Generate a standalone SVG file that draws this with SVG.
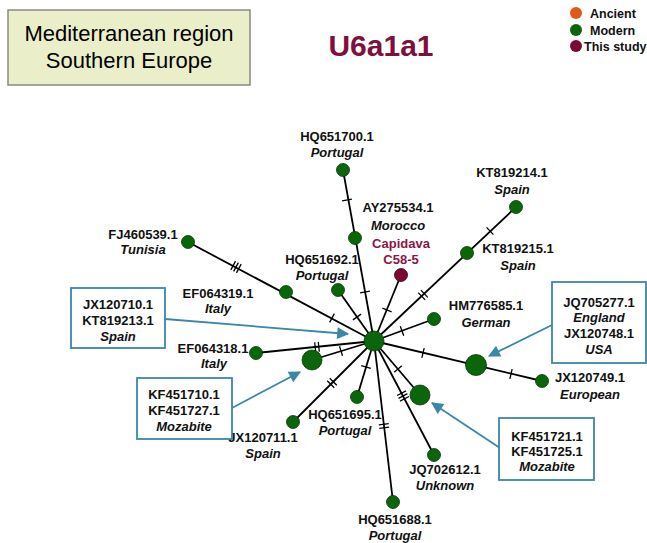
<svg xmlns="http://www.w3.org/2000/svg" width="647" height="543" viewBox="0 0 647 543">
<style>
text{font-family:"Liberation Sans",Arial,sans-serif;text-anchor:middle}
.l{font-size:13px;font-weight:bold;fill:#111}
.c{font-size:13px;font-weight:bold;font-style:italic;fill:#111}
.g{font-size:12.5px;font-weight:bold;fill:#111;text-anchor:start}
.e{stroke:#000;stroke-width:1.8;fill:none}
.t{stroke:#000;stroke-width:1.3}
.n{fill:#0B650B;stroke:#053805;stroke-width:0.8}
.s{fill:#7A0A33;stroke:#3a0418;stroke-width:0.8}
.box{fill:#fff;stroke:#3B87A8;stroke-width:1.8}
.ar{stroke:#3B87A8;stroke-width:1.8;fill:none}
</style>
<defs>
<marker id="ah2" viewBox="0 0 10 10" refX="9" refY="5" markerWidth="14" markerHeight="12" orient="auto" markerUnits="userSpaceOnUse">
<path d="M0,0 L10,5 L0,10 z" fill="#3B87A8"/>
</marker>
</defs>

<g id="region-box">
<rect x="8" y="10" width="242" height="75" fill="#EBEFC9" stroke="#8a8a80" stroke-width="1.5"/>
<text x="129" y="41" style="font-size:22px">Mediterranean region</text>
<text x="129" y="68" style="font-size:22px">Southern Europe</text>
</g>
<g id="title">
<text x="381" y="56" style="font-size:30px;font-weight:bold;fill:#7E1040">U6a1a1</text>
</g>
<g id="legend">
<circle cx="576" cy="13" r="6" fill="#E2581A"/>
<circle cx="576" cy="30" r="6" fill="#0B650B"/>
<circle cx="576" cy="46" r="6" fill="#7A0A33"/>
<text x="590" y="18" class="g">Ancient</text>
<text x="590" y="35" class="g">Modern</text>
<text x="584" y="51" class="g">This study</text>
</g>

<g id="connectors">
<line class="e" x1="374" y1="341" x2="343" y2="170"/>
<line class="e" x1="374" y1="341" x2="401" y2="275"/>
<line class="e" x1="374" y1="341" x2="516" y2="207"/>
<line class="e" x1="374" y1="341" x2="434" y2="319"/>
<line class="e" x1="374" y1="341" x2="542" y2="381"/>
<line class="e" x1="374" y1="341" x2="420" y2="395"/>
<line class="e" x1="374" y1="341" x2="434" y2="455"/>
<line class="e" x1="374" y1="341" x2="393" y2="502"/>
<line class="e" x1="374" y1="341" x2="357" y2="397"/>
<line class="e" x1="374" y1="341" x2="293" y2="422"/>
<line class="e" x1="374" y1="341" x2="312" y2="360"/>
<line class="e" x1="374" y1="341" x2="256" y2="353"/>
<line class="e" x1="374" y1="341" x2="188" y2="242"/>
<line class="e" x1="374" y1="341" x2="338" y2="290"/>
<g transform="translate(347,200) rotate(-100.3)"><line class="t" x1="0" y1="-5" x2="0" y2="5"/></g>
<g transform="translate(365,292) rotate(-100.3)"><line class="t" x1="0" y1="-5" x2="0" y2="5"/></g>
<g transform="translate(387,310) rotate(-67.8)"><line class="t" x1="0" y1="-5" x2="0" y2="5"/></g>
<g transform="translate(423,295) rotate(-43.3)"><line class="t" x1="-1.8" y1="-5" x2="-1.8" y2="5"/><line class="t" x1="1.8" y1="-5" x2="1.8" y2="5"/></g>
<g transform="translate(490,231) rotate(-43.3)"><line class="t" x1="0" y1="-5" x2="0" y2="5"/></g>
<g transform="translate(402,331) rotate(-20.1)"><line class="t" x1="0" y1="-5" x2="0" y2="5"/></g>
<g transform="translate(423,353) rotate(13.4)"><line class="t" x1="0" y1="-5" x2="0" y2="5"/></g>
<g transform="translate(511,374) rotate(13.4)"><line class="t" x1="0" y1="-5" x2="0" y2="5"/></g>
<g transform="translate(398,369) rotate(49.6)"><line class="t" x1="0" y1="-5" x2="0" y2="5"/></g>
<g transform="translate(403,396) rotate(62.2)"><line class="t" x1="-3.2" y1="-5" x2="-3.2" y2="5"/><line class="t" x1="0" y1="-5" x2="0" y2="5"/><line class="t" x1="3.2" y1="-5" x2="3.2" y2="5"/></g>
<g transform="translate(384,426) rotate(83.3)"><line class="t" x1="-1.8" y1="-5" x2="-1.8" y2="5"/><line class="t" x1="1.8" y1="-5" x2="1.8" y2="5"/></g>
<g transform="translate(366,367) rotate(106.9)"><line class="t" x1="0" y1="-5" x2="0" y2="5"/></g>
<g transform="translate(332,383) rotate(135)"><line class="t" x1="-1.8" y1="-5" x2="-1.8" y2="5"/><line class="t" x1="1.8" y1="-5" x2="1.8" y2="5"/></g>
<g transform="translate(341,351) rotate(163)"><line class="t" x1="0" y1="-5" x2="0" y2="5"/></g>
<g transform="translate(317,347) rotate(174.2)"><line class="t" x1="-1.8" y1="-5" x2="-1.8" y2="5"/><line class="t" x1="1.8" y1="-5" x2="1.8" y2="5"/></g>
<g transform="translate(236,267) rotate(-152)"><line class="t" x1="-3.2" y1="-5" x2="-3.2" y2="5"/><line class="t" x1="0" y1="-5" x2="0" y2="5"/><line class="t" x1="3.2" y1="-5" x2="3.2" y2="5"/></g>
<g transform="translate(332,318) rotate(-152)"><line class="t" x1="0" y1="-5" x2="0" y2="5"/></g>
<g transform="translate(357,317) rotate(-125.2)"><line class="t" x1="0" y1="-5" x2="0" y2="5"/></g>
<line class="ar" x1="165" y1="319" x2="348" y2="334" marker-end="url(#ah2)"/>
<line class="ar" x1="232" y1="408" x2="300" y2="372" marker-end="url(#ah2)"/>
<line class="ar" x1="552" y1="325" x2="489" y2="356" marker-end="url(#ah2)"/>
<line class="ar" x1="500" y1="448" x2="432" y2="403" marker-end="url(#ah2)"/>
</g>

<g id="n-HQ651700"><circle class="n" cx="343" cy="170" r="6.5"/><text class="l" x="337" y="141">HQ651700.1</text><text class="c" x="337" y="157">Portugal</text></g>
<g id="n-AY275534"><circle class="n" cx="355" cy="238" r="6.5"/><text class="l" x="398" y="212">AY275534.1</text><text class="c" x="398" y="230">Morocco</text></g>
<g id="n-Capidava"><circle class="s" cx="401" cy="275" r="6.5"/><text class="l" x="401" y="248" style="fill:#8B1744">Capidava</text><text class="l" x="401" y="264" style="fill:#8B1744">C58-5</text></g>
<g id="n-KT819214"><circle class="n" cx="516" cy="207" r="6.5"/><text class="l" x="512" y="177">KT819214.1</text><text class="c" x="512" y="194">Spain</text></g>
<g id="n-KT819215"><circle class="n" cx="467" cy="253" r="6.5"/><text class="l" x="518" y="253">KT819215.1</text><text class="c" x="518" y="270">Spain</text></g>
<g id="n-HM776585"><circle class="n" cx="434" cy="319" r="6.5"/><text class="l" x="486" y="310">HM776585.1</text><text class="c" x="486" y="327">German</text></g>
<g id="n-JQ705277"><circle class="n" cx="476" cy="365" r="10.5"/></g>
<g id="n-JX120749"><circle class="n" cx="542" cy="381" r="6.5"/><text class="l" x="590" y="382">JX120749.1</text><text class="c" x="590" y="399">European</text></g>
<g id="n-KF451721"><circle class="n" cx="420" cy="395" r="10"/></g>
<g id="n-JQ702612"><circle class="n" cx="434" cy="455" r="6.5"/><text class="l" x="445" y="474">JQ702612.1</text><text class="c" x="445" y="490">Unknown</text></g>
<g id="n-HQ651688"><circle class="n" cx="393" cy="502" r="6.5"/><text class="l" x="395" y="524">HQ651688.1</text><text class="c" x="395" y="540">Portugal</text></g>
<g id="n-HQ651695"><circle class="n" cx="357" cy="397" r="6.5"/><text class="l" x="345" y="419">HQ651695.1</text><text class="c" x="345" y="435">Portugal</text></g>
<g id="n-JX120711"><circle class="n" cx="293" cy="422" r="6.5"/><text class="l" x="263" y="442">JX120711.1</text><text class="c" x="263" y="458">Spain</text></g>
<g id="n-KF451710"><circle class="n" cx="312" cy="360" r="10"/></g>
<g id="n-EF064318"><circle class="n" cx="256" cy="353" r="6.5"/><text class="l" x="213" y="353">EF064318.1</text><text class="c" x="214" y="368">Italy</text></g>
<g id="n-EF064319"><circle class="n" cx="286" cy="292" r="6.5"/><text class="l" x="218" y="298">EF064319.1</text><text class="c" x="218" y="313">Italy</text></g>
<g id="n-FJ460539"><circle class="n" cx="188" cy="242" r="6.5"/><text class="l" x="143" y="239">FJ460539.1</text><text class="c" x="143" y="254">Tunisia</text></g>
<g id="n-HQ651692"><circle class="n" cx="338" cy="290" r="6.5"/><text class="l" x="322" y="264">HQ651692.1</text><text class="c" x="322" y="280">Portugal</text></g>
<g id="n-hub"><circle class="n" cx="374" cy="341" r="10"/></g>

<g id="box-JX120710"><rect class="box" x="71" y="288" width="94" height="60"/><text class="l" x="118" y="309">JX120710.1</text><text class="l" x="118" y="325">KT819213.1</text><text class="c" x="118" y="341">Spain</text></g>
<g id="box-KF451710"><rect class="box" x="137" y="378" width="95" height="61"/><text class="l" x="184" y="399">KF451710.1</text><text class="l" x="184" y="415">KF451727.1</text><text class="c" x="184" y="431">Mozabite</text></g>
<g id="box-JQ705277"><rect class="box" x="552" y="282" width="94" height="81"/><text class="l" x="599" y="307">JQ705277.1</text><text class="c" x="599" y="322">England</text><text class="l" x="599" y="338">JX120748.1</text><text class="c" x="599" y="354">USA</text></g>
<g id="box-KF451721"><rect class="box" x="499" y="418" width="95" height="62"/><text class="l" x="547" y="441">KF451721.1</text><text class="l" x="547" y="456">KF451725.1</text><text class="c" x="547" y="471">Mozabite</text></g>
</svg>
